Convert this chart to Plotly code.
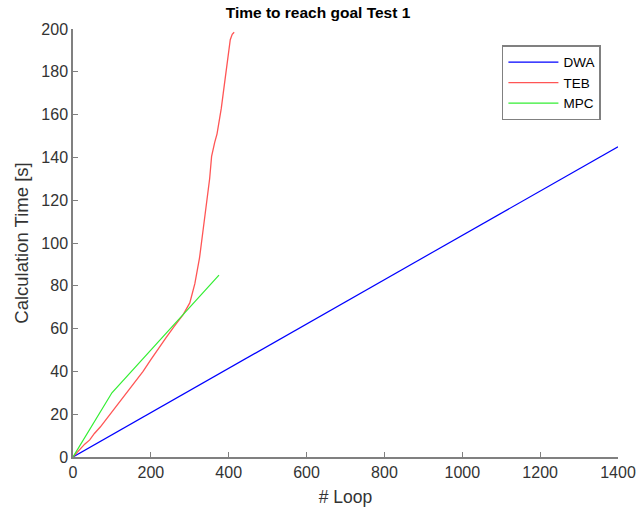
import plotly.graph_objects as go

# DWA
dwa_x = [0, 200, 400, 600, 800, 1000, 1200, 1400]
dwa_y = [0, 20.7, 41.4, 62.1, 82.9, 103.6, 124.3, 145]

# TEB
teb_x = [0, 10, 20, 30, 43, 55, 70, 85, 99, 115, 130, 145, 160, 180, 200, 220, 240, 260, 283, 300,
         313, 325, 338, 345, 351, 356, 361, 364, 370, 376, 381, 386, 391, 395, 400, 404, 409, 414]
teb_y = [0, 2, 4, 6, 8, 11, 14, 17.5, 21, 25, 28, 31.5, 35, 40, 45.5, 51, 56, 61, 66.5, 72,
         81, 93, 111, 120, 130, 140.5, 145, 147, 151, 157, 163, 170, 177, 183, 190, 195, 197.5, 198.5]

# MPC
mpc_x = [0, 100, 375]
mpc_y = [0, 30, 85]

x_ticks = [0, 200, 400, 600, 800, 1000, 1200, 1400]
y_ticks = [0, 20, 40, 60, 80, 100, 120, 140, 160, 180, 200]

FONT = "Liberation Sans, Arial, Helvetica, sans-serif"

W, H = 638, 514

fig = go.Figure()
fig.add_trace(go.Scatter(x=dwa_x, y=dwa_y, mode="lines", name="DWA",
                         line=dict(color="#0000ff", width=1.2)))
fig.add_trace(go.Scatter(x=teb_x, y=teb_y, mode="lines", name="TEB",
                         line=dict(color="#ff5555", width=1.3)))
fig.add_trace(go.Scatter(x=mpc_x, y=mpc_y, mode="lines", name="MPC",
                         line=dict(color="#33ee33", width=1.2)))

axis_common = dict(
    showgrid=False, zeroline=False, showline=True, linecolor="#808080", linewidth=1.5,
    ticks="inside", ticklen=5, tickcolor="#808080", tickwidth=1,
    tickfont=dict(family=FONT, size=16, color="#333333"), mirror=False,
    automargin=False,
)

fig.update_layout(
    width=W, height=H,
    margin=dict(l=73, r=20, t=29, b=57),
    paper_bgcolor="white", plot_bgcolor="white",
    title=dict(text="<b>Time to reach goal Test 1</b>", x=318 / W, xanchor="center",
               y=1 - 13 / H, yref="container", yanchor="middle",
               font=dict(family=FONT, size=15.5, color="#000000"), automargin=False),
    xaxis=dict(range=[0, 1400], tickvals=x_ticks, ticktext=[str(v) for v in x_ticks],
               title=dict(text="# Loop", font=dict(family=FONT, size=17.5, color="#333333"), standoff=11),
               **axis_common),
    yaxis=dict(range=[0, 200], tickvals=y_ticks, ticktext=[str(v) for v in y_ticks],
               title=dict(text="Calculation Time [s]", font=dict(family=FONT, size=18.5, color="#333333"), standoff=8),
               **axis_common),
    legend=dict(x=0.787, y=0.962, xanchor="left", yanchor="top",
                bgcolor="white", bordercolor="#808080", borderwidth=1.5,
                font=dict(family=FONT, size=13.5, color="#000000"),
                tracegroupgap=0, itemwidth=50),
    showlegend=True,
)

fig.write_html("out.html",
               config={"displayModeBar": False},
               post_script="document.body.style.margin='0';document.body.style.padding='0';")
